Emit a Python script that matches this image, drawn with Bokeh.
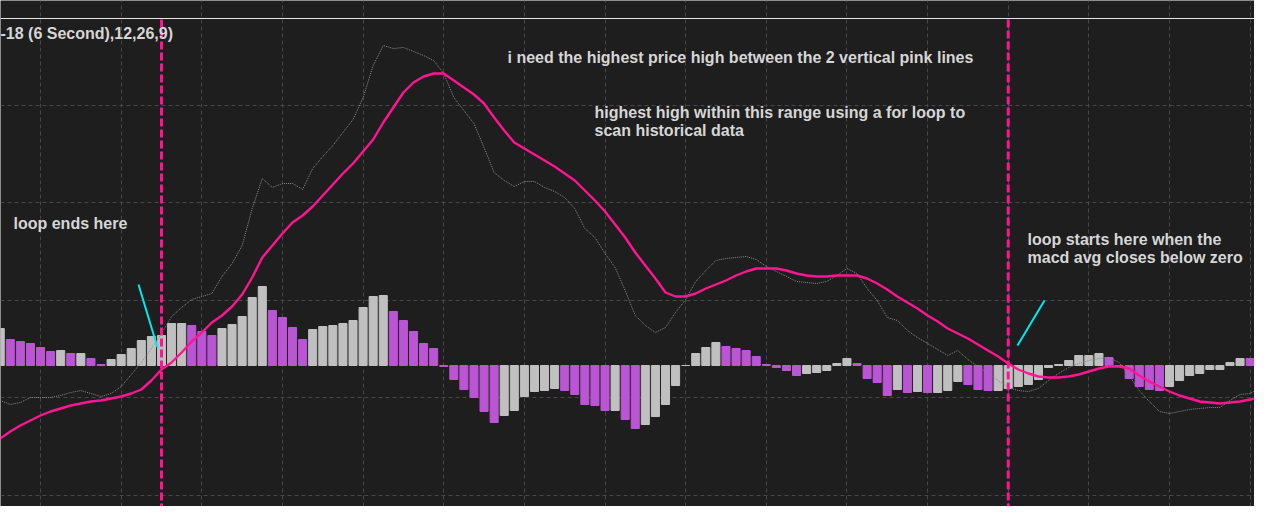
from bokeh.plotting import figure
from bokeh.models import Label, Range1d, FixedTicker, ColumnDataSource
from bokeh.embed import file_html
from bokeh.resources import INLINE

# ---------------- data ----------------
bar_index = list(range(-1, 125))

hist = [37, 26, 24, 22, 18, 14, 15, 12, 12, 7,
        1, 6, 11, 17, 25, 29, 30, 42, 42, 40,
        34, 30, 37, 41, 49, 68, 79, 55, 48, 38,
        26, 36, 39, 40, 42, 45, 58, 69, 70, 54,
        45, 34, 22, 17, -1, -14, -24, -32, -46, -57,
        -50, -45, -31, -26, -25, -23, -25, -29, -39, -40,
        -45, -45, -54, -63, -59, -51, -39, -20, 0, 12,
        18, 23, 19, 17, 15, 9, 1, -2, -5, -10,
        -8, -7, -5, 2, 7, 2, -13, -17, -30, -24,
        -27, -26, -27, -27, -25, -16, -19, -24, -25, -25,
        -23, -21, -19, -14, -2, 1, 5, 10, 10, 12,
        8, 0, -13, -21, -24, -25, -21, -15, -10, -8,
        -4, -4, 3, 7, 7, 9]

hist_dir = list("GPPPPPGPGP" "PGGGGGGGGP" "PPGGGGGPPP" "PGGGGGGGGP"
                "PPPPPPPPPP" "GGGGGGPPPP" "PGPPGGGGGG" "GGPPPPPPPP"
                "GGGGGPPPPG" "PGPGGGPPPG" "GGGGGGGGGG" "PPPPPPGGGG"
                "GGGGPG")

macd_avg = [-73, -66, -60, -55, -50, -46, -43, -40, -38, -36,
            -35, -33, -31, -28, -24, -15, -4, 3, 13, 24,
            33, 43, 50, 59, 71, 88, 108, 120, 132, 143,
            150, 159, 170, 181, 192, 202, 214, 226, 243, 258,
            273, 283, 289, 292, 292, 285, 278, 271, 262, 248,
            235, 223, 217, 211, 205, 199, 192, 185, 175, 165,
            154, 141, 128, 113, 100, 87, 73, 69, 69, 72,
            77, 81, 85, 90, 94, 97, 97, 97, 95, 92,
            90, 89, 89, 90, 90, 90, 87, 82, 76, 69,
            63, 57, 50, 44, 37, 32, 27, 21, 15, 9,
            2, -4, -8, -11, -12, -12, -11, -9, -6, -3,
            -1, -1, -3, -10, -16, -21, -26, -30, -33, -36,
            -37, -38, -37, -36, -34, -32]

macd = [-35, -39, -37, -32, -32, -32, -30, -27, -25, -28,
        -31, -28, -21, -9, 3, 17, 32, 49, 58, 66,
        69, 72, 89, 102, 120, 157, 187, 178, 182, 182,
        176, 197, 209, 220, 233, 246, 268, 300, 320, 317,
        318, 314, 310, 305, 292, 268, 255, 242, 218, 193,
        185, 179, 184, 184, 178, 174, 168, 157, 137, 128,
        112, 98, 75, 50, 40, 33, 38, 53, 66, 84,
        95, 105, 107, 108, 109, 106, 99, 94, 89, 84,
        83, 82, 84, 90, 97, 92, 77, 65, 48, 45,
        35, 28, 22, 16, 10, 15, 6, -1, -8, -15,
        -22, -25, -26, -23, -15, -8, -2, 2, 5, 7,
        8, 3, -10, -25, -36, -46, -48, -46, -44, -43,
        -42, -42, -35, -29, -28, -22]

loop_bars = [15, 99]           # bars where the loop ends / starts
study_title = "-18 (6 Second),12,26,9)"
notes = ["i need the highest price high between the 2 vertical pink lines",
         "highest high within this range using a for loop to",
         "scan historical data",
         "loop ends here",
         "loop starts here when the",
         "macd avg closes below zero"]

# ---------------- styling ----------------
BG = "#1e1e1e"
PINK = "#ff1493"
TXT = "#d6d6d6"
colour_of = {"G": "#c0c0c0", "P": "#ba55d3"}

W, H = 1254, 506


def dx(px):
    return (px - 9.8) / 10.08


def dy(py):
    return 365 - py


X0, X1 = dx(0), dx(W)
Y0, Y1 = dy(H), dy(0)

p = figure(width=W, height=H, output_backend="svg", toolbar_location=None,
           x_range=Range1d(X0, X1), y_range=Range1d(Y0, Y1),
           background_fill_color=BG, border_fill_color=BG,
           min_border=0, outline_line_color=None)
p.xaxis.visible = False
p.yaxis.visible = False

p.xgrid.ticker = FixedTicker(ticks=list(range(3, 125, 8)))
p.ygrid.ticker = FixedTicker(ticks=[-129.5, -32, 65.5, 163, 260.5])
for g in (p.xgrid, p.ygrid):
    g.grid_line_color = "#474747"
    g.grid_line_dash = "4 3"
    g.grid_line_width = 1

src = ColumnDataSource(dict(x=bar_index, top=hist,
                            color=[colour_of[d] for d in hist_dir],
                            macd=macd, avg=macd_avg))

p.vbar(x="x", top="top", bottom=0, width=0.8, color="color", source=src)
p.line(x="x", y="macd", source=src, line_color="#8a8a8a", line_width=1,
       line_dash="1 1")
p.line(x="x", y="avg", source=src, line_color=PINK, line_width=2.4)

# white top line
p.line(x=[X0, X1], y=[347, 347], line_color="#e6e6e6", line_width=1)

# vertical loop-boundary lines
p.segment(x0=loop_bars, x1=loop_bars, y0=[346, 346], y1=[Y0, Y0],
          line_color=PINK, line_width=3, line_dash="8 3")

# cyan pointer strokes
p.segment(x0=[dx(138), dx(1017)], y0=[dy(284), dy(345)],
          x1=[dx(157), dx(1044)], y1=[dy(347), dy(300)],
          line_color="#00e8f0", line_width=2)


def add_label(text, px, py):
    p.add_layout(Label(x=dx(px), y=dy(py), text=text,
                       text_font="Liberation Sans", text_font_style="bold",
                       text_font_size="16px", text_color=TXT,
                       text_align="left", text_baseline="alphabetic"))


add_label(study_title, 0, 33)
add_label(notes[0], 507, 57)
add_label(notes[1], 594, 112)
add_label(notes[2], 594, 130)
add_label(notes[3], 13, 223)
add_label(notes[4], 1027, 239)
add_label(notes[5], 1027, 257)

open("out.html", "w").write(file_html(p, INLINE))
